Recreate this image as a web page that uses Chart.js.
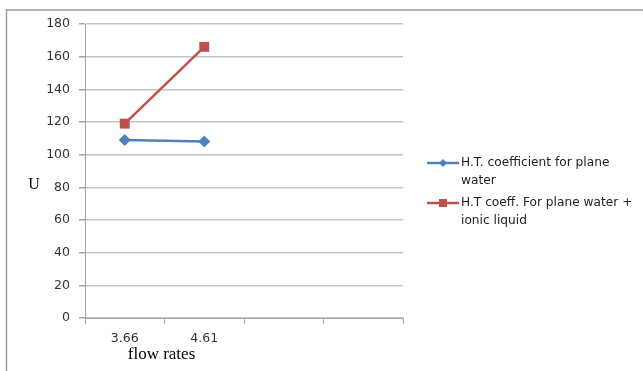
<!DOCTYPE html>
<html>
<head>
<meta charset="utf-8">
<script src="https://cdn.jsdelivr.net/npm/chart.js@4/dist/chart.umd.min.js"></script>
<style>
  html, body { margin: 0; padding: 0; background: #fff; }
  #wrap { width: 643px; height: 371px; position: relative; }
</style>
</head>
<body>
<div id="wrap"><canvas id="c" width="643" height="371"></canvas></div>
<script>
// Flow-rate categories (two empty slots keep the category axis four wide)
const categories = ['3.66', '4.61', '', ''];
// Overall heat-transfer coefficient U
const plainWater = [109, 108, null, null];
const waterIonic = [119, 166, null, null];
const seriesNames = [
  ['H.T. coefficient for plane', 'water'],
  ['H.T coeff. For plane water +', 'ionic liquid']
];
const yTicks = { min: 0, max: 180, step: 20 };

const BLUE = '#4F81BD';
const RED = '#C0504D';
const GRID = '#c4c4c4';
const AXIS = '#a6a6a6';

// Frame around the figure, axis titles and the wrapped legend
const decorations = {
  id: 'decorations',
  beforeDraw(chart) {
    const ctx = chart.ctx;
    ctx.save();
    ctx.fillStyle = '#fff';
    ctx.fillRect(0, 0, chart.width, chart.height);
    ctx.strokeStyle = '#9a9a9a';
    ctx.lineWidth = 1.5;
    ctx.beginPath();
    ctx.moveTo(6.5, chart.height);
    ctx.lineTo(6.5, 10);
    ctx.lineTo(chart.width, 10);
    ctx.stroke();
    ctx.restore();
  },
  afterDraw(chart) {
    const ctx = chart.ctx;
    const area = chart.chartArea;
    const x = chart.scales.x;
    ctx.save();
    ctx.fillStyle = '#000';
    ctx.textBaseline = 'middle';
    ctx.textAlign = 'center';
    ctx.font = '16px "Liberation Serif", serif';
    ctx.fillText('U', 34, (area.top + area.bottom) / 2 + 14);
    ctx.font = '17px "Liberation Serif", serif';
    const midX = (x.getPixelForValue(0) + x.getPixelForValue(1)) / 2 - 3;
    ctx.fillText('flow rates', midX, area.bottom + 37);

    // legend
    const entries = [
      { color: BLUE, shape: 'diamond', lines: seriesNames[0], y: 163 },
      { color: RED, shape: 'square', lines: seriesNames[1], y: 203 }
    ];
    ctx.font = '12.2px "DejaVu Sans", sans-serif';
    ctx.textAlign = 'left';
    entries.forEach(e => {
      ctx.strokeStyle = e.color;
      ctx.lineWidth = 2.5;
      ctx.beginPath();
      ctx.moveTo(427, e.y);
      ctx.lineTo(459, e.y);
      ctx.stroke();
      ctx.fillStyle = e.color;
      const cx = 443;
      if (e.shape === 'diamond') {
        ctx.beginPath();
        ctx.moveTo(cx, e.y - 4);
        ctx.lineTo(cx + 4, e.y);
        ctx.lineTo(cx, e.y + 4);
        ctx.lineTo(cx - 4, e.y);
        ctx.closePath();
        ctx.fill();
      } else {
        ctx.fillRect(cx - 4, e.y - 4, 8, 8);
      }
      ctx.fillStyle = '#222';
      e.lines.forEach((t, i) => ctx.fillText(t, 461, e.y + i * 18));
    });
    ctx.restore();
  }
};

new Chart(document.getElementById('c'), {
  type: 'line',
  data: {
    labels: categories,
    datasets: [
      {
        label: seriesNames[0].join(' '),
        data: plainWater,
        borderColor: BLUE,
        backgroundColor: BLUE,
        borderWidth: 2.5,
        pointStyle: 'rectRot',
        pointRadius: 6,
        pointBorderWidth: 0,
        pointHoverRadius: 6
      },
      {
        label: seriesNames[1].join(' '),
        data: waterIonic,
        borderColor: RED,
        backgroundColor: RED,
        borderWidth: 2.5,
        pointStyle: 'rect',
        pointRadius: 7,
        pointBorderWidth: 0,
        pointHoverRadius: 7
      }
    ]
  },
  options: {
    responsive: false,
    animation: false,
    events: [],
    layout: { padding: { left: 0, top: 24, right: 240, bottom: 0 } },
    plugins: {
      legend: { display: false },
      tooltip: { enabled: false },
      title: { display: false }
    },
    scales: {
      x: {
        type: 'category',
        offset: true,
        grid: {
          offset: true,
          drawOnChartArea: false,
          drawTicks: true,
          tickLength: 6,
          color: AXIS
        },
        border: { color: AXIS, width: 1 },
        ticks: {
          color: '#333',
          font: { family: '"DejaVu Sans", sans-serif', size: 12.5 },
          padding: 7,
          maxRotation: 0
        },
        afterFit(scale) { scale.height = 53; }
      },
      y: {
        min: yTicks.min,
        max: yTicks.max,
        grid: {
          color: GRID,
          lineWidth: 1.5,
          tickLength: 6,
          tickColor: AXIS
        },
        border: { color: AXIS, width: 1 },
        ticks: {
          stepSize: yTicks.step,
          color: '#333',
          font: { family: '"DejaVu Sans", sans-serif', size: 12.5 },
          padding: 9
        },
        afterFit(scale) { scale.width = 85; }
      }
    }
  },
  plugins: [decorations]
});
</script>
</body>
</html>
